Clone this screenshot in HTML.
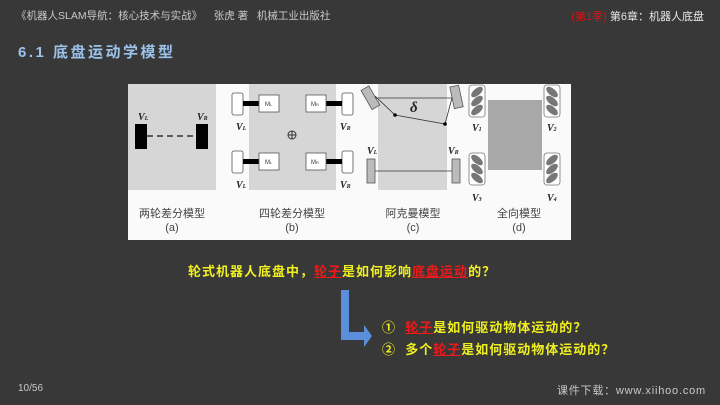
<!DOCTYPE html>
<html><head><meta charset="utf-8"><style>
body{margin:0;width:720px;height:405px;background:#383838;overflow:hidden;position:relative;font-family:"Liberation Sans","Noto Sans CJK SC",sans-serif}
.t{position:absolute;white-space:nowrap}
</style></head><body>
<div class="t" style="left:16px;top:8px;font-size:10.5px;color:#c8c8c8">《机器人SLAM导航：核心技术与实战》&nbsp;&nbsp;&nbsp; 张虎 著 &nbsp;&nbsp;机械工业出版社</div>
<div class="t" style="right:16px;top:8px;font-size:11px;color:#e8e8e8"><span style="color:#e01010">(第1季)</span> 第6章：机器人底盘</div>
<div class="t" style="left:18px;top:41px;font-size:15px;font-weight:bold;color:#9cc3ec;letter-spacing:2.5px">6.1 底盘运动学模型</div>

<svg style="position:absolute;left:0;top:0" width="720" height="405">
<rect x="128" y="84" width="443" height="156" fill="#fafafa"/>
<rect x="128" y="84" width="88" height="106" fill="#d6d6d6"/>
<rect x="249" y="84" width="87" height="106" fill="#d6d6d6"/>
<rect x="378" y="84" width="69" height="106" fill="#d6d6d6"/>
<rect x="488" y="100" width="54" height="70" fill="#a8a8a8"/>
<rect x="135" y="124" width="12" height="25" fill="#000"/>
<rect x="196" y="124" width="12" height="25" fill="#000"/>
<line x1="147" y1="136" x2="196" y2="136" stroke="#333" stroke-width="1.5" stroke-dasharray="6,4"/>
<g font-family="Liberation Serif" font-style="italic" font-weight="bold" font-size="10" fill="#222">
<text x="138" y="120">V<tspan font-size="6">L</tspan></text><text x="197" y="120">V<tspan font-size="6">R</tspan></text>
<text x="236" y="130">V<tspan font-size="6">L</tspan></text><text x="340" y="130">V<tspan font-size="6">R</tspan></text>
<text x="236" y="188">V<tspan font-size="6">L</tspan></text><text x="340" y="188">V<tspan font-size="6">R</tspan></text>
<text x="367" y="154">V<tspan font-size="6">L</tspan></text><text x="448" y="154">V<tspan font-size="6">R</tspan></text>
<text x="472" y="131">V<tspan font-size="6">1</tspan></text><text x="547" y="131">V<tspan font-size="6">2</tspan></text>
<text x="472" y="201">V<tspan font-size="6">3</tspan></text><text x="547" y="201">V<tspan font-size="6">4</tspan></text>
<text x="410" y="112" font-size="15">δ</text>
</g>
<g fill="#fff" stroke="#555" stroke-width="0.8">
<rect x="232" y="93" width="11" height="22" rx="2"/><rect x="342" y="93" width="11" height="22" rx="2"/>
<rect x="232" y="151" width="11" height="22" rx="2"/><rect x="342" y="151" width="11" height="22" rx="2"/>
</g>
<g fill="#000"><rect x="243" y="101" width="16" height="5"/><rect x="326" y="101" width="16" height="5"/><rect x="243" y="159" width="16" height="5"/><rect x="326" y="159" width="16" height="5"/></g>
<g fill="#fff" stroke="#555" stroke-width="0.8">
<rect x="259" y="95" width="20" height="17"/><rect x="306" y="95" width="20" height="17"/>
<rect x="259" y="153" width="20" height="17"/><rect x="306" y="153" width="20" height="17"/>
</g>
<g font-size="6" fill="#333"><text x="265" y="106">M<tspan font-size="4">L</tspan></text><text x="311" y="106">M<tspan font-size="4">R</tspan></text><text x="265" y="164">M<tspan font-size="4">L</tspan></text><text x="311" y="164">M<tspan font-size="4">R</tspan></text></g>
<circle cx="292" cy="135" r="4" fill="none" stroke="#333"/><line x1="288" y1="135" x2="296" y2="135" stroke="#333"/><line x1="292" y1="131" x2="292" y2="139" stroke="#333"/>
<g fill="#bbb" stroke="#555" stroke-width="0.8">
<rect x="366" y="87" width="9" height="22" transform="rotate(-30 370 98)"/>
<rect x="452" y="86" width="9" height="22" transform="rotate(-12 456 97)"/>
<rect x="367" y="159" width="8" height="24"/><rect x="452" y="159" width="8" height="24"/>
</g>
<polyline points="375,96 395,115 445,124 452,98" fill="none" stroke="#333" stroke-width="0.8"/>
<line x1="375" y1="98" x2="452" y2="98" stroke="#333" stroke-width="0.8"/>
<line x1="375" y1="171" x2="452" y2="171" stroke="#333" stroke-width="0.8"/>
<circle cx="395" cy="115" r="1.8" fill="#000"/><circle cx="445" cy="124" r="1.8" fill="#000"/>
<g fill="#fff" stroke="#777" stroke-width="0.8">
<rect x="469" y="85" width="16" height="32" rx="3"/><rect x="544" y="85" width="16" height="32" rx="3"/>
<rect x="469" y="153" width="16" height="32" rx="3"/><rect x="544" y="153" width="16" height="32" rx="3"/>
</g>
<g fill="#777">
<ellipse cx="477" cy="92" rx="7" ry="3.5" transform="rotate(-40 477 92)"/><ellipse cx="477" cy="101" rx="7" ry="3.5" transform="rotate(-40 477 101)"/><ellipse cx="477" cy="110" rx="7" ry="3.5" transform="rotate(-40 477 110)"/>
<ellipse cx="552" cy="92" rx="7" ry="3.5" transform="rotate(40 552 92)"/><ellipse cx="552" cy="101" rx="7" ry="3.5" transform="rotate(40 552 101)"/><ellipse cx="552" cy="110" rx="7" ry="3.5" transform="rotate(40 552 110)"/>
<ellipse cx="477" cy="160" rx="7" ry="3.5" transform="rotate(40 477 160)"/><ellipse cx="477" cy="169" rx="7" ry="3.5" transform="rotate(40 477 169)"/><ellipse cx="477" cy="178" rx="7" ry="3.5" transform="rotate(40 477 178)"/>
<ellipse cx="552" cy="160" rx="7" ry="3.5" transform="rotate(-40 552 160)"/><ellipse cx="552" cy="169" rx="7" ry="3.5" transform="rotate(-40 552 169)"/><ellipse cx="552" cy="178" rx="7" ry="3.5" transform="rotate(-40 552 178)"/>
</g>
<g font-size="11" fill="#444" text-anchor="middle">
<text x="172" y="217">两轮差分模型</text><text x="292" y="217">四轮差分模型</text><text x="413" y="217">阿克曼模型</text><text x="519" y="217">全向模型</text>
<text x="172" y="231">(a)</text><text x="292" y="231">(b)</text><text x="413" y="231">(c)</text><text x="519" y="231">(d)</text>
</g>
<path d="M341,290 H349 V332 H364 V325 L372,336 L364,347 V340 H341 Z" fill="#5b8fdc"/>
</svg>

<div class="t" style="left:188px;top:261px;font-size:13px;font-weight:bold;color:#f0f020;letter-spacing:1px">轮式机器人底盘中，<span style="color:#f01818;text-decoration:underline">轮子</span>是如何影响<span style="color:#f01818;text-decoration:underline">底盘运动</span>的？</div>
<div class="t" style="left:382px;top:317px;font-size:13px;font-weight:bold;color:#f0f020;letter-spacing:1px">①&nbsp; <span style="color:#f01818;text-decoration:underline">轮子</span>是如何驱动物体运动的？</div>
<div class="t" style="left:382px;top:339px;font-size:13px;font-weight:bold;color:#f0f020;letter-spacing:1px">②&nbsp; 多个<span style="color:#f01818;text-decoration:underline">轮子</span>是如何驱动物体运动的？</div>

<div class="t" style="left:18px;top:383px;font-size:10px;color:#c8c8c8">10/56</div>
<div class="t" style="right:14px;top:382px;font-size:11px;color:#c8c8c8;letter-spacing:0.8px">课件下载：www.xiihoo.com</div>
</body></html>
